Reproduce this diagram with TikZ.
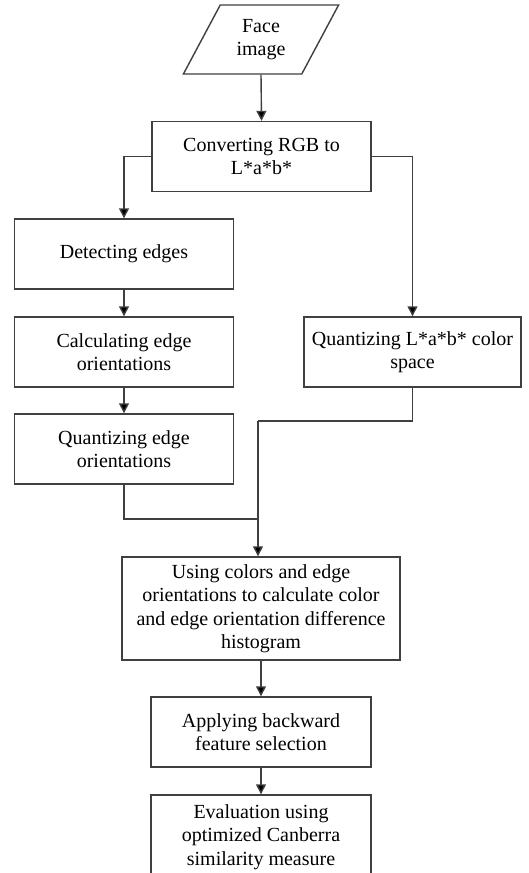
\documentclass[tikz,border=0pt]{standalone}
\usepackage{fontspec}
\setmainfont{Liberation Serif}
\usetikzlibrary{shapes.geometric}
\usetikzlibrary{arrows.meta}

\begin{document}
\begin{tikzpicture}[x=1pt, y=-1pt,
        every node/.style={fill=white, font=\fontsize{20}{23.5}\selectfont},
        b/.style={rectangle, draw=black!75, line width=1.4pt, align=center, minimum width=219pt, minimum height=70pt, inner sep=3pt},
        io/.style={trapezium, trapezium left angle=62, trapezium right angle=118, trapezium stretches=true, draw=black!75, line width=1.4pt, align=center, minimum width=156pt, minimum height=69pt, inner sep=2pt},
        l/.style={draw=black!75, line width=1.4pt},
        a/.style={l, -{Triangle[length=10pt, width=10pt, fill=black]}}]
        \useasboundingbox (0, 0) rectangle (529, 873);

        \node[io] (face) at (261, 39.5) {Face\\image};
        \node[b] (conv) at (261.5, 156.5) {Converting RGB to\\L*a*b*};
        \node[b] (det) at (124, 254) {Detecting edges};
        \node[b] (calc) at (124, 352) {Calculating edge\\orientations};
        \node[b] (qedge) at (124, 449) {Quantizing edge\\orientations};
        \node[b, minimum width=217pt] (qlab) at (412.5, 352) {Quantizing L*a*b* color\\space};
        \node[b, minimum width=278pt, minimum height=103pt] (using) at (261, 608.5) {Using colors and edge\\orientations to calculate color\\and edge orientation difference\\histogram};
        \node[b, minimum width=220pt] (apply) at (261, 732) {Applying backward\\feature selection};
        \node[b, minimum width=220pt, minimum height=84pt] (eval) at (261, 837) {Evaluation using\\optimized Canberra\\similarity measure};

        \coordinate (j1) at (258, 421);
        \coordinate (j2) at (258, 519);

        \draw[a] (face.south) -- (conv.north);
        \draw[a] (conv.west) -| (det.north);
        \draw[a] (conv.east) -| (qlab.north);
        \draw[a] (det) -- (calc);
        \draw[a] (calc) -- (qedge);
        \draw[l] (qlab.south) |- (j1);
        \draw[l] (qedge.south) |- (j2);
        \draw[a] (j1) -- (j1 |- using.north);
        \draw[a] (apply |- using.south) -- (apply.north);
        \draw[a] (apply) -- (eval);
    \end{tikzpicture}
\end{document}
